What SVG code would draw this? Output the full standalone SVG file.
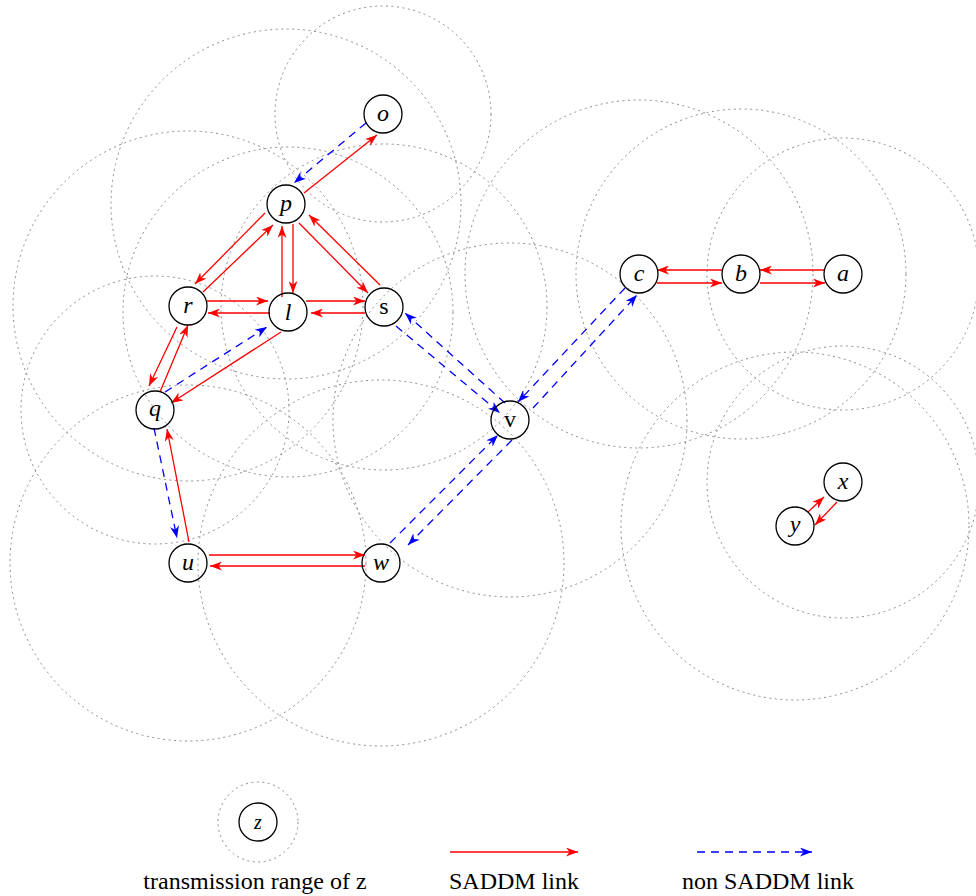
<svg xmlns="http://www.w3.org/2000/svg" width="976" height="896" viewBox="0 0 976 896">
<style>
.rng{fill:none;stroke:#8c8c8c;stroke-width:1;stroke-dasharray:2 3.5}
.nd{fill:none;stroke:#000;stroke-width:1.3}
.lb{font-family:"Liberation Serif",serif;font-style:italic;font-size:24px;text-anchor:middle;fill:#000}
.up{font-style:normal}
.red{stroke:#ff0000;stroke-width:1.3;fill:none;marker-end:url(#ar)}
.blu{stroke:#0000ff;stroke-width:1.3;fill:none;stroke-dasharray:8 6;marker-end:url(#ab)}
.lg{font-family:"Liberation Serif",serif;font-size:24px;text-anchor:middle;fill:#000}
</style>
<defs>
<marker id="ar" markerWidth="13" markerHeight="9" refX="12" refY="4.5" orient="auto" markerUnits="userSpaceOnUse"><path d="M0,0 L12,4.5 L0,9 L3.5,4.5 Z" fill="#ff0000"/></marker>
<marker id="ab" markerWidth="13" markerHeight="9" refX="12" refY="4.5" orient="auto" markerUnits="userSpaceOnUse"><path d="M0,0 L12,4.5 L0,9 L3.5,4.5 Z" fill="#0000ff"/></marker>
</defs>
<rect width="976" height="896" fill="#fff"/>
<g id="ranges">
<circle class="rng" cx="383" cy="114" r="108"/>
<circle class="rng" cx="286" cy="204" r="175"/>
<circle class="rng" cx="188" cy="306" r="175"/>
<circle class="rng" cx="288" cy="312" r="165"/>
<circle class="rng" cx="384" cy="307" r="163"/>
<circle class="rng" cx="155" cy="410" r="134"/>
<circle class="rng" cx="188" cy="563" r="178"/>
<circle class="rng" cx="381" cy="563" r="183"/>
<circle class="rng" cx="510" cy="420" r="177"/>
<circle class="rng" cx="639" cy="274" r="174"/>
<circle class="rng" cx="741" cy="274" r="165"/>
<circle class="rng" cx="843" cy="274" r="136"/>
<circle class="rng" cx="843" cy="482" r="136"/>
<circle class="rng" cx="795" cy="526" r="174"/>
</g>
<g id="connectors">
<line class="red" x1="304" y1="193" x2="377" y2="135"/>
<line class="blu" x1="366" y1="123" x2="294" y2="183"/>
<line class="red" x1="265" y1="213" x2="195" y2="284"/>
<line class="red" x1="203" y1="292" x2="273" y2="225"/>
<line class="red" x1="282" y1="297" x2="282" y2="226"/>
<line class="red" x1="293" y1="224" x2="293" y2="293"/>
<line class="red" x1="299" y1="223" x2="368" y2="293"/>
<line class="red" x1="380" y1="285" x2="309" y2="215"/>
<line class="red" x1="207" y1="301" x2="268" y2="301"/>
<line class="red" x1="270" y1="313" x2="208" y2="313"/>
<line class="red" x1="306" y1="301" x2="365" y2="301"/>
<line class="red" x1="365" y1="313" x2="311" y2="313"/>
<line class="red" x1="177" y1="327" x2="149" y2="386"/>
<line class="red" x1="160" y1="392" x2="188" y2="325"/>
<line class="blu" x1="165" y1="392" x2="267" y2="327"/>
<line class="red" x1="281" y1="332" x2="171" y2="403"/>
<line class="blu" x1="154" y1="428" x2="177" y2="538"/>
<line class="red" x1="189" y1="542" x2="167" y2="429"/>
<line class="red" x1="209" y1="555" x2="365" y2="555"/>
<line class="red" x1="365" y1="566" x2="210" y2="566"/>
<line class="blu" x1="396" y1="326" x2="500" y2="413"/>
<line class="blu" x1="505" y1="403" x2="405" y2="313"/>
<line class="blu" x1="625" y1="288" x2="518" y2="402"/>
<line class="blu" x1="533" y1="408" x2="637" y2="295"/>
<line class="blu" x1="390" y1="543" x2="498" y2="435"/>
<line class="blu" x1="512" y1="440" x2="408" y2="545"/>
<line class="red" x1="722" y1="270" x2="657" y2="270"/>
<line class="red" x1="657" y1="283" x2="722" y2="283"/>
<line class="red" x1="825" y1="270" x2="760" y2="270"/>
<line class="red" x1="760" y1="283" x2="825" y2="283"/>
<line class="red" x1="808" y1="512" x2="824" y2="497"/>
<line class="red" x1="837" y1="502" x2="815" y2="525"/>
</g>
<g id="node-o"><circle class="nd" cx="383" cy="114" r="19"/><text class="lb" x="383" y="121">o</text></g>
<g id="node-p"><circle class="nd" cx="286" cy="204" r="19"/><text class="lb" x="286" y="211">p</text></g>
<g id="node-r"><circle class="nd" cx="188" cy="306" r="19"/><text class="lb" x="188" y="313">r</text></g>
<g id="node-l"><circle class="nd" cx="288" cy="312" r="19"/><text class="lb" x="288" y="320">l</text></g>
<g id="node-s"><circle class="nd" cx="384" cy="307" r="19"/><text class="lb up" x="384" y="314">s</text></g>
<g id="node-q"><circle class="nd" cx="155" cy="410" r="19"/><text class="lb" x="155" y="416">q</text></g>
<g id="node-u"><circle class="nd" cx="188" cy="563" r="19"/><text class="lb" x="188" y="570">u</text></g>
<g id="node-w"><circle class="nd" cx="381" cy="563" r="19"/><text class="lb" x="381" y="570">w</text></g>
<g id="node-v"><circle class="nd" cx="510" cy="420" r="19"/><text class="lb up" x="510" y="427">v</text></g>
<g id="node-c"><circle class="nd" cx="639" cy="274" r="19"/><text class="lb" x="639" y="281">c</text></g>
<g id="node-b"><circle class="nd" cx="741" cy="274" r="19"/><text class="lb" x="741" y="281">b</text></g>
<g id="node-a"><circle class="nd" cx="843" cy="274" r="19"/><text class="lb" x="843" y="281">a</text></g>
<g id="node-x"><circle class="nd" cx="843" cy="482" r="19"/><text class="lb" x="843" y="489">x</text></g>
<g id="node-y"><circle class="nd" cx="795" cy="526" r="19"/><text class="lb" x="795" y="532">y</text></g>
<g id="legend">
<circle class="rng" cx="258" cy="822" r="40"/>
<g id="node-z"><circle class="nd" cx="258" cy="822" r="19"/><text class="lb" x="258" y="829" style="font-size:20px">z</text></g>
<line class="red" x1="450" y1="852" x2="578" y2="852"/>
<line class="blu" x1="697" y1="852" x2="812" y2="852"/>
<text class="lg" x="255" y="889">transmission range of z</text>
<text class="lg" x="514" y="889">SADDM link</text>
<text class="lg" x="768" y="889">non SADDM link</text>
</g>
</svg>
